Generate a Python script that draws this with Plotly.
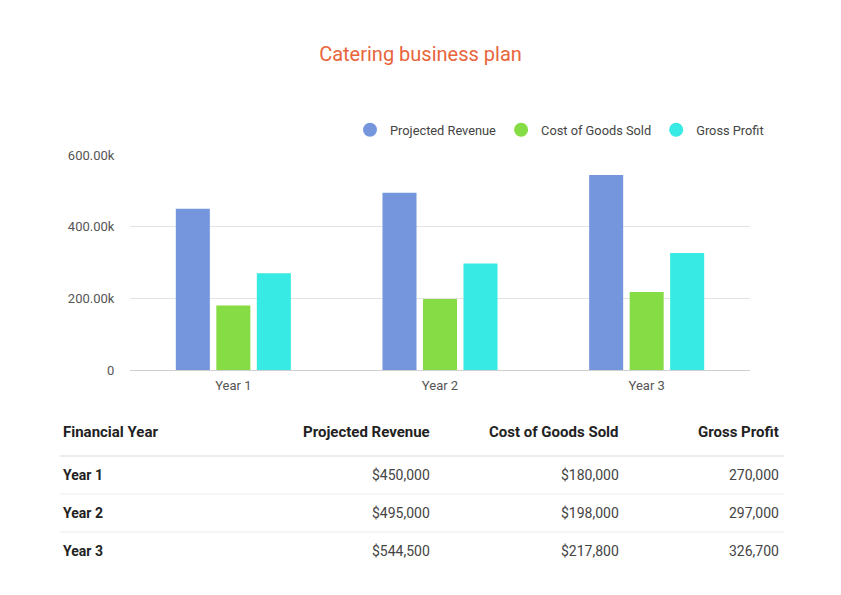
import plotly.graph_objects as go

categories = ["Year 1", "Year 2", "Year 3"]
series_names = ["Projected Revenue", "Cost of Goods Sold", "Gross Profit"]
revenue = [450000, 495000, 544500]
cogs = [180000, 198000, 217800]
gross = [270000, 297000, 326700]
colors = ["#7596DD", "#86DC45", "#37EAE3"]
ytick_vals = [0, 200000, 400000, 600000]
ytick_text = ["0", "200.00k", "400.00k", "600.00k"]

table_header = ["Financial Year", "Projected Revenue", "Cost of Goods Sold", "Gross Profit"]
table_rows = [
    ["Year 1", "$450,000", "$180,000", "270,000"],
    ["Year 2", "$495,000", "$198,000", "297,000"],
    ["Year 3", "$544,500", "$217,800", "326,700"],
]

W, H = 841, 595
def px(x):
    return x / W
def py(y):
    return 1 - y / H

fig = go.Figure()
for name, vals, c in zip(series_names, [revenue, cogs, gross], colors):
    fig.add_trace(go.Bar(x=categories, y=vals, name=name, marker=dict(color=c, line=dict(width=0)),
                         showlegend=False, hoverinfo="x+y"))
for name, c in zip(series_names, colors):
    fig.add_trace(go.Scatter(x=[None], y=[None], mode="markers", name=name,
                             marker=dict(symbol="circle", size=14, color=c)))

font = "Roboto, Arial, sans-serif"
fig.update_layout(
    width=W, height=H,
    margin=dict(l=0, r=0, t=0, b=0),
    paper_bgcolor="white", plot_bgcolor="white",
    font=dict(family=font, color="#555", size=13),
    title=dict(text="Catering business plan", x=0.5, xanchor="center", y=py(54), yanchor="middle",
               font=dict(family=font, size=20, color="#E8643A")),
    barmode="group", bargap=0.412, bargroupgap=0.16,
    legend=dict(orientation="h", x=px(769), xanchor="right", y=py(130), yanchor="middle",
                font=dict(size=12.8, color="#444"), itemwidth=30, tracegroupgap=0),
    xaxis=dict(domain=[px(130), px(750)], showgrid=False, showline=True, linecolor="#cfcfcf",
               ticks="outside", ticklen=3, tickcolor="rgba(0,0,0,0)",
               tickfont=dict(size=13, color="#555"), fixedrange=True, automargin=False),
    yaxis=dict(domain=[py(370), py(155)], range=[0, 600000], tickvals=ytick_vals, ticktext=ytick_text,
               showgrid=True, gridcolor="#e3e3e3", gridwidth=1, zeroline=False, showline=False,
               ticks="outside", ticklen=12, tickcolor="rgba(0,0,0,0)", tickfont=dict(size=13, color="#555"),
               automargin=False, fixedrange=True),
)

# Table
col_x = [61, 432, 621, 781]
col_anchor = ["left", "right", "right", "right"]
header_y = 432
row_y = [475, 513, 551]
annotations = []
for i, t in enumerate(table_header):
    annotations.append(dict(text=t, x=px(col_x[i]), y=py(header_y), xref="paper", yref="paper",
                            xanchor=col_anchor[i], yanchor="middle", showarrow=False,
                            font=dict(family=font, size=15, color="#222", weight="bold")))
for r, row in enumerate(table_rows):
    for i, t in enumerate(row):
        annotations.append(dict(text=t, x=px(col_x[i]), y=py(row_y[r]), xref="paper", yref="paper",
                                xanchor=col_anchor[i], yanchor="middle", showarrow=False,
                                font=dict(family=font, size=14,
                                          color="#222" if i == 0 else "#444",
                                          weight="bold" if i == 0 else "normal")))
fig.update_layout(annotations=annotations)

line_ys = [(456, 2), (494, 1.2), (532, 1.2)]
for y, w in line_ys:
    fig.add_shape(type="line", xref="paper", yref="paper", x0=px(60), x1=px(784), y0=py(y), y1=py(y),
                  line=dict(color="#ececec", width=w))

fig.write_html("out.html", config={"displayModeBar": False},
               post_script="document.body.style.margin='0';")
